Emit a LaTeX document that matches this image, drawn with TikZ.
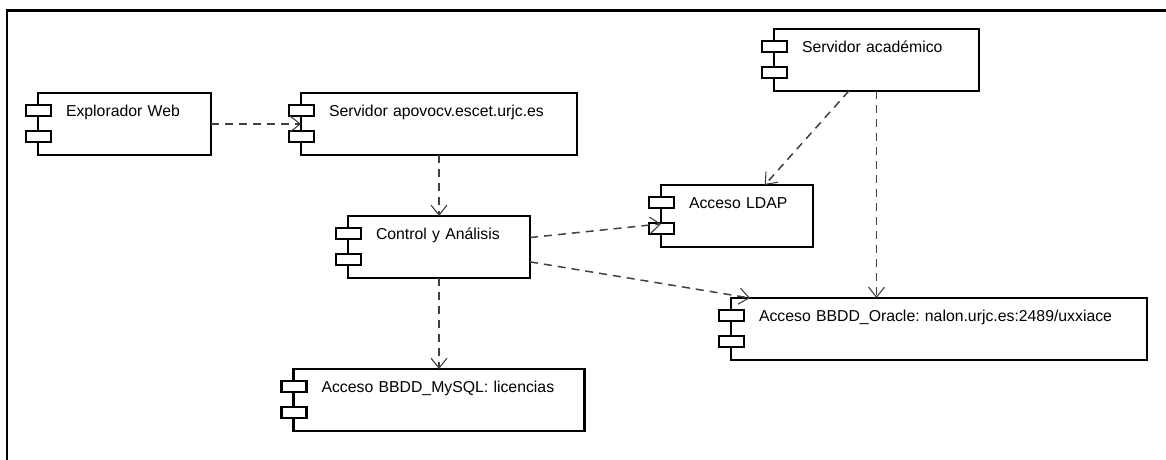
\documentclass[tikz,border=0pt]{standalone}
\usepackage{fontspec}
\setmainfont{Liberation Sans}
\frenchspacing
\usetikzlibrary{arrows.meta,positioning}

\begin{document}
\begin{tikzpicture}[x=1pt, y=1pt, node distance=60pt,
      >={Straight Barb[length=10pt,width=16pt,line width=1.1pt]},
      comp/.style={draw, line width=2.4pt, fill=white, inner sep=0pt, outer sep=0pt,
        text width=#1, align=left, text height=23pt, text depth=39pt,
        font=\fontsize{15.8}{18}\selectfont,
        execute at begin node={\hspace*{28pt}}},
      tab/.style={draw, line width=2.4pt, fill=white},
      dep/.style={->, draw=black!75, line width=1.5pt, dash pattern=on 8pt off 6pt}]

  \useasboundingbox (0,0) rectangle (1166,-459);
  \begin{scope}
    \clip (0,0) rectangle (1166,-459);
    \draw[line width=2.8pt] (7,-10.5) rectangle (1200,-500);
  \end{scope}

  \node [comp=173pt, anchor=north west] (web) at (38,-93) {Explorador Web};
  \node [comp=276pt, right=90pt of web] (srv) {Servidor apovocv.escet.urjc.es};
  \node [comp=182pt, below=61pt of srv] (ctrl) {Control y Análisis};
  \node [comp=291pt, below=91pt of ctrl] (mysql) {Acceso BBDD\_MySQL: licencias};
  \node [comp=152pt, right=131pt of ctrl, yshift=31pt] (ldap) {Acceso LDAP};
  \node [comp=205pt, above=94pt of ldap, xshift=139.5pt] (acad) {Servidor académico};
  \node [comp=416pt, below=51pt of ldap, xshift=202pt] (oracle) {Acceso BBDD\_Oracle: nalon.urjc.es:2489/uxxiace};

  % component tabs
  \foreach \n in {web,srv,ctrl,mysql,ldap,acad,oracle} {
    \draw[tab] ([shift={(-12,-12)}]\n.north west) rectangle ++(25,-11);
    \draw[tab] ([shift={(-12,-38)}]\n.north west) rectangle ++(25,-11);
  }

  \draw[dep] (web) -- (srv);
  \draw[dep] (srv) -- (ctrl);
  \draw[dep] (ctrl) -- (ldap);
  \draw[dep] (ctrl) -- (oracle);
  \draw[dep] (ctrl) -- (mysql);
  \draw[dep] (acad) -- (ldap);
  \draw[dep] (acad.south) -- (acad.south |- oracle.north);
\end{tikzpicture}
\end{document}
